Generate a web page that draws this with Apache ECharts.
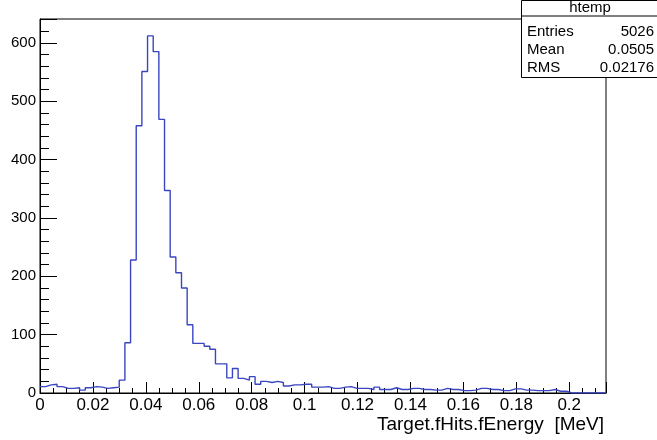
<!DOCTYPE html>
<html>
<head>
<meta charset="utf-8">
<script src="https://cdn.jsdelivr.net/npm/echarts@6/dist/echarts.min.js"></script>
<style>html,body{margin:0;padding:0;background:#fff;}#c{width:657px;height:440px;}</style>
</head>
<body>
<div id="c"></div>
<script>
// Histogram definition
var xMin = 0;
var xMax = 0.2139;
var nBins = 100;
var yMax = 641;
// Bin contents
var binValues = [
  11, 14, 15, 11, 8, 8, 9, 5, 9, 11,
  10, 8, 9, 10, 22, 86, 228, 458, 551, 612,
  585, 469, 347, 233, 206, 180, 117, 85, 85, 80,
  75, 50, 50, 26, 42, 25, 22, 28, 15, 20,
  18, 20, 18, 12, 14, 14, 15, 15, 10, 10,
  11, 8, 8, 10, 11, 8, 8, 8, 6, 10,
  6, 6, 9, 6, 6, 8, 8, 6, 6, 5,
  5, 8, 6, 6, 4, 4, 5, 8, 8, 6,
  6, 4, 4, 7, 7, 5, 5, 4, 4, 4,
  6, 3, 3, 0, 0, 0, 0, 0, 0, 0
];
var xTickInterval = 0.02;
var yTickInterval = 100;
var statsTitle = 'htemp';
var statsLabels = ['Entries', 'Mean', 'RMS'];
var statsValues = ['5026', '0.0505', '0.02176'];
var xAxisTitle = 'Target.fHits.fEnergy  [MeV]';

var binWidth = (xMax - xMin) / nBins;
var stepData = [];
for (var i = 0; i < nBins; i++) {
  stepData.push([xMin + i * binWidth, binValues[i]]);
}
stepData.push([xMax, binValues[nBins - 1]]);

var font = '"Liberation Sans", Arial, Helvetica, sans-serif';
var chart = echarts.init(document.getElementById('c'));

var graphics = [
  { type: 'rect', left: 521, top: 0, shape: { width: 140, height: 77 },
    style: { fill: '#fff', stroke: '#000', lineWidth: 1 }, z: 100 },
  { type: 'line', shape: { x1: 521, y1: 16, x2: 660, y2: 16 },
    style: { stroke: '#000', lineWidth: 1 }, z: 101 },
  { type: 'text', x: 590, y: 8, style: { text: statsTitle, font: '15px ' + font, fill: '#000',
    align: 'center', verticalAlign: 'middle' }, z: 102 }
];
for (var k = 0; k < statsLabels.length; k++) {
  graphics.push({ type: 'text', x: 527, y: 32 + k * 18, style: { text: statsLabels[k],
    font: '15px ' + font, fill: '#000', align: 'left', verticalAlign: 'middle' }, z: 102 });
  graphics.push({ type: 'text', x: 654, y: 32 + k * 18, style: { text: statsValues[k],
    font: '15px ' + font, fill: '#000', align: 'right', verticalAlign: 'middle' }, z: 102 });
}

chart.setOption({
  animation: false,
  backgroundColor: '#fff',
  grid: { left: 40, top: 19, right: 51, bottom: 47, show: true, borderColor: '#000', borderWidth: 1,
    containLabel: false },
  xAxis: {
    type: 'value', min: xMin, max: xMax, interval: xTickInterval,
    axisLine: { show: true, onZero: false, lineStyle: { color: '#000', width: 1 } },
    axisTick: { show: true, inside: true, length: 11, lineStyle: { color: '#000', width: 1 } },
    minorTick: { show: true, splitNumber: 4, length: 5, lineStyle: { color: '#000', width: 1 } },
    splitLine: { show: false },
    axisLabel: { color: '#000', fontSize: 17, fontFamily: font, margin: 4, showMaxLabel: false,
      formatter: function (v) { return String(parseFloat(v.toFixed(4))); } },
    name: xAxisTitle, nameLocation: 'end', nameGap: 0,
    nameTextStyle: { color: '#000', fontSize: 19, fontFamily: font, align: 'right',
      verticalAlign: 'top', padding: [22, 2, 0, 0] }
  },
  yAxis: {
    type: 'value', min: 0, max: yMax, interval: yTickInterval,
    axisLine: { show: true, lineStyle: { color: '#000', width: 1 } },
    axisTick: { show: true, inside: true, length: 17, lineStyle: { color: '#000', width: 1 } },
    minorTick: { show: true, splitNumber: 5, length: 9, lineStyle: { color: '#000', width: 1 } },
    splitLine: { show: false },
    axisLabel: { color: '#000', fontSize: 15, fontFamily: font, margin: 4, showMaxLabel: false }
  },
  series: [{
    type: 'line', step: 'end', data: stepData, symbol: 'none',
    lineStyle: { color: '#3a46c0', width: 1.4 }, z: 5
  }],
  graphic: graphics
});
</script>
</body>
</html>
